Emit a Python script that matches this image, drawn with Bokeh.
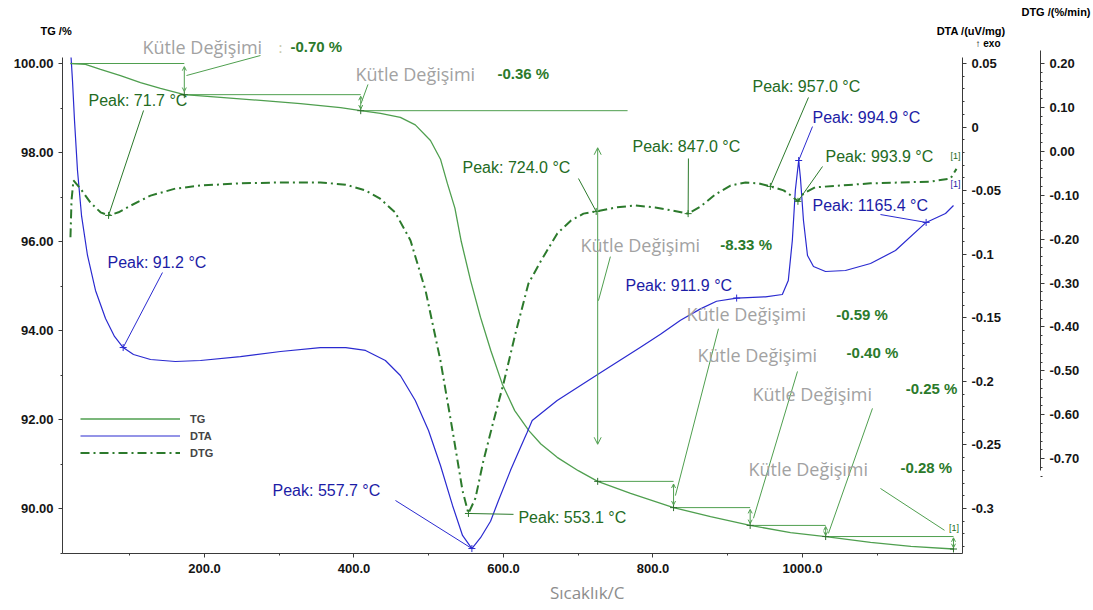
import numpy as np
from bokeh.plotting import figure
from bokeh.models import (Range1d, LinearAxis, FixedTicker, Label, Arrow, OpenHead,
                          NumeralTickFormatter, CustomJSTickFormatter, Legend, LegendItem)
from bokeh.embed import file_html
from bokeh.resources import INLINE

# ---------------- measured curves ----------------
# TG: residual mass (%) vs temperature (°C)
tg_temp = [20.7, 40.8, 60.9, 87.6, 114.4, 141.1, 173.0, 221.4, 275.0, 328.4, 382.0, 409.0,
           435.4, 462.0, 482.0, 502.3, 515.7, 525.0, 535.0, 543.5, 556.0, 569.2, 583.0,
           598.3, 615.0, 633.9, 650.0, 671.8, 700.0, 726.0, 770.0, 827.5, 877.0, 930.0,
           984.0, 1031.0, 1091.0, 1145.0, 1202.0]
tg_mass = [100.0, 99.98, 99.87, 99.73, 99.57, 99.44, 99.30, 99.24, 99.17, 99.10, 99.01, 98.94,
           98.88, 98.79, 98.62, 98.27, 97.85, 97.30, 96.75, 96.00, 95.12, 94.30, 93.55,
           92.80, 92.20, 91.75, 91.45, 91.15, 90.85, 90.61, 90.34, 90.02, 89.82, 89.62,
           89.46, 89.37, 89.24, 89.15, 89.09]

# DTA: uV/mg vs temperature (°C)
dta_temp = [21.5, 23.4, 26.1, 30.1, 35.5, 43.5, 54.2, 67.6, 79.6, 91.2, 105.0, 127.8, 161.0,
            194.6, 248.0, 301.7, 355.0, 389.0, 415.4, 442.0, 462.0, 482.0, 499.7, 515.7,
            531.8, 545.2, 557.7, 569.3, 582.7, 593.3, 609.4, 622.7, 631.7, 638.4, 671.8,
            727.5, 783.3, 810.0, 836.8, 863.5, 885.0, 911.9, 950.5, 973.0, 981.0, 986.4,
            990.4, 994.9, 997.3, 1001.3, 1006.7, 1014.7, 1030.8, 1057.5, 1091.0, 1124.4,
            1165.4, 1191.3, 1202.0]
dta_signal = [0.0547, 0.0366, 0.0052, -0.0342, -0.0696, -0.1010, -0.1285, -0.1506, -0.1647,
              -0.1734, -0.1789, -0.1828, -0.1844, -0.1836, -0.1805, -0.1765, -0.1734, -0.1734,
              -0.1757, -0.1836, -0.1954, -0.2151, -0.2387, -0.2662, -0.2976, -0.3212, -0.3315,
              -0.3230, -0.3100, -0.2937, -0.2700, -0.2520, -0.2400, -0.2308, -0.2151,
              -0.1940, -0.1731, -0.1630, -0.1520, -0.1430, -0.1370, -0.1345, -0.1335,
              -0.1317, -0.1207, -0.0892, -0.0499, -0.0263, -0.0404, -0.0735, -0.1010,
              -0.1097, -0.1136, -0.1128, -0.1073, -0.0971, -0.0750, -0.0680, -0.0617]

# DTG: %/min vs temperature (°C)
dtg_temp = [20.7, 22.1, 24.7, 34.1, 47.5, 60.9, 71.7, 85.0, 101.0, 127.8, 161.0, 194.6, 248.0,
            302.0, 355.0, 389.0, 415.0, 435.0, 455.0, 475.6, 495.7, 515.7, 531.8, 545.2, 553.1,
            562.5, 573.0, 586.6, 600.0, 616.0, 633.4, 650.0, 672.0, 690.0, 707.0, 724.0, 750.0,
            776.5, 803.0, 826.0, 847.0, 863.5, 883.6, 903.7, 923.8, 941.0, 957.0, 974.7, 984.0,
            993.9, 1001.3, 1017.0, 1051.0, 1091.0, 1131.0, 1171.0, 1198.0, 1206.0]
dtg_rate = [-0.196, -0.112, -0.066, -0.085, -0.117, -0.139, -0.146, -0.139, -0.124, -0.101,
            -0.085, -0.078, -0.073, -0.071, -0.071, -0.076, -0.089, -0.108, -0.139, -0.203,
            -0.317, -0.477, -0.636, -0.773, -0.825, -0.790, -0.706, -0.615, -0.529, -0.415,
            -0.301, -0.250, -0.187, -0.158, -0.142, -0.137, -0.128, -0.1235, -0.128, -0.135,
            -0.142, -0.126, -0.098, -0.078, -0.071, -0.073, -0.080, -0.089, -0.100, -0.114,
            -0.096, -0.082, -0.078, -0.073, -0.071, -0.069, -0.062, -0.040]

# mass-change steps evaluated on the TG curve
step_temp = [20.7, 173.0, 409.0, 726.0, 827.5, 930.0, 1031.0, 1202.0]
mass_loss = [0.70, 0.36, 8.33, 0.59, 0.40, 0.25, 0.28]

# evaluated peaks
dtg_peaks = [71.7, 553.1, 724.0, 847.0, 957.0, 993.9]
dta_peaks = [91.2, 557.7, 911.9, 994.9, 1165.4]

# axis ticks
temp_ticks = [200, 400, 600, 800, 1000]
temp_minor = [100, 300, 500, 700, 900, 1100]
tg_ticks = [90, 92, 94, 96, 98, 100]
tg_minor = [89, 91, 93, 95, 97, 99]
dta_ticks = [0.05, 0.0, -0.05, -0.1, -0.15, -0.2, -0.25, -0.3]
dtg_ticks = [0.2, 0.1, 0.0, -0.1, -0.2, -0.3, -0.4, -0.5, -0.6, -0.7]

# visible extent of each axis
temp_span = (10.0, 1214.0)
tg_span = (88.99, 100.135)
dta_span = (-0.3354, 0.0547)
dtg_span = (-0.727, 0.23)

# ---------------- styling ----------------
TG_C = "#4f9f4f"
DTG_C = "#2c7a2c"
DTA_C = "#2a2ad0"
PEAK_G = "#236b23"
PEAK_B = "#1c1ca6"
LOSS_C = "#2b7a2b"
GRAY = "#a2a2a2"
AX = "#3a3a3a"
TICK_FONT = "Liberation Sans"

# the drawing area spans the whole canvas; the axes sit at fixed positions inside it
p = figure(width=1093, height=610, output_backend="svg", toolbar_location=None,
           x_range=Range1d(-72.9, 1389.3), y_range=Range1d(87.708, 101.416),
           min_border_left=0, min_border_right=0, min_border_top=0, min_border_bottom=0)
p.outline_line_color = None
p.grid.visible = False
p.background_fill_color = "white"
p.border_fill_color = "white"

p.extra_y_ranges = {"dta": Range1d(-0.38023, 0.09955), "dtg": Range1d(-1.046, 0.3435)}


def style_axis(ax):
    ax.axis_line_color = AX
    ax.major_tick_line_color = AX
    ax.minor_tick_line_color = AX
    ax.major_tick_out = 4
    ax.major_tick_in = 0
    ax.minor_tick_out = 2
    ax.minor_tick_in = 0
    ax.major_label_text_font = TICK_FONT
    ax.major_label_text_font_style = "bold"
    ax.major_label_text_font_size = "13px"
    ax.major_label_text_color = "#151515"
    ax.major_label_standoff = 5


xa = p.xaxis[0]
style_axis(xa)
xa.ticker = FixedTicker(ticks=temp_ticks, minor_ticks=temp_minor)
xa.formatter = NumeralTickFormatter(format="0.0")
xa.major_label_standoff = 7
xa.fixed_location = tg_span[0]
xa.bounds = temp_span

ya = p.yaxis[0]
style_axis(ya)
ya.ticker = FixedTicker(ticks=tg_ticks, minor_ticks=tg_minor)
ya.formatter = NumeralTickFormatter(format="0.00")
ya.fixed_location = temp_span[0]
ya.bounds = tg_span

dta_axis = LinearAxis(y_range_name="dta")
style_axis(dta_axis)
dta_axis.ticker = FixedTicker(ticks=dta_ticks,
                              minor_ticks=[round(0.05 - 0.01 * i, 2) for i in range(39)])
dta_axis.formatter = CustomJSTickFormatter(code="return parseFloat(tick.toFixed(2)).toString();")
dta_axis.fixed_location = temp_span[1]
dta_axis.bounds = dta_span
p.add_layout(dta_axis, "right")

dtg_axis = LinearAxis(y_range_name="dtg")
style_axis(dtg_axis)
dtg_axis.ticker = FixedTicker(ticks=dtg_ticks,
                              minor_ticks=[round(0.2 - 0.02 * i, 2) for i in range(48)])
dtg_axis.formatter = NumeralTickFormatter(format="0.00")
dtg_axis.fixed_location = 1318.4
dtg_axis.bounds = dtg_span
p.add_layout(dtg_axis, "right")

# ---------------- curves ----------------
r_tg = p.line(tg_temp, tg_mass, line_color=TG_C, line_width=1.3)
r_dta = p.line(dta_temp, dta_signal, line_color=DTA_C, line_width=1.2, y_range_name="dta")
r_dtg = p.line(dtg_temp, dtg_rate, line_color=DTG_C, line_width=2, line_dash="9 4 2 4",
               y_range_name="dtg")

legend = Legend(items=[LegendItem(label="TG", renderers=[r_tg]),
                       LegendItem(label="DTA", renderers=[r_dta]),
                       LegendItem(label="DTG", renderers=[r_dtg])],
                location=(80, 149), glyph_width=100, glyph_height=17, label_height=17,
                spacing=0, padding=0, margin=0, label_standoff=10,
                label_text_font=TICK_FONT, label_text_font_style="bold",
                label_text_font_size="11px", border_line_color=None,
                background_fill_alpha=0)
p.add_layout(legend)


def put(text, x, y, rng="default", color="#000", size="16px", font="Liberation Sans",
        style="normal", align="left", baseline="middle"):
    p.add_layout(Label(x=x, y=y, y_range_name=rng, text=text, text_color=color,
                       text_font_size=size, text_font=font, text_font_style=style,
                       text_align=align, text_baseline=baseline))


# ---------------- mass-change steps ----------------
levels = [100.0] + list(100.0 - np.cumsum(mass_loss))
line_end = list(step_temp[1:])
line_end[2] = 766.0
for i, loss in enumerate(mass_loss):
    p.line([step_temp[i], line_end[i]], [levels[i], levels[i]], line_color=TG_C, line_width=1)
    inset = 0.1 * loss
    head = 7 if loss > 1 else 4
    p.add_layout(Arrow(x_start=step_temp[i + 1], y_start=levels[i] - inset,
                       x_end=step_temp[i + 1], y_end=levels[i + 1] + inset,
                       start=OpenHead(size=head, line_color=TG_C, line_width=1),
                       end=OpenHead(size=head, line_color=TG_C, line_width=1),
                       line_color=TG_C, line_width=1))
p.scatter(step_temp[1:], levels[1:], marker="cross", size=7, line_color="#2f6f2f")

# label anchors (T, TG) for each step text, and the leader start points
loss_text_pos = [(117.1, 100.382), (402.0, 99.775), (703.0, 95.93), (844.7, 94.36),
                 (859.5, 93.46), (933.0, 92.58), (927.7, 90.88)]
loss_value_pos = [(315.0, 100.382), (592.0, 99.775), (890.0, 95.93), (1045.0, 94.36),
                  (1059.0, 93.51), (1138.0, 92.70), (1131.0, 90.92)]
loss_leaders = [((274.9, 100.18), (175.9, 99.73)), ((418.7, 99.53), (409.4, 99.10)),
                ((743.0, 95.66), (727.0, 94.67)), ((887.6, 94.04), (830.0, 90.29)),
                ((993.3, 93.08), (934.4, 89.78)), ((1093.6, 92.25), (1034.7, 89.44)),
                ((1104.3, 90.45), (1190.0, 89.51))]
for (a, b) in loss_leaders:
    p.line([a[0], b[0]], [a[1], b[1]], line_color=TG_C, line_width=1)
for loss, (tx, ty), (vx, vy) in zip(mass_loss, loss_text_pos, loss_value_pos):
    put("Kütle Değişimi", tx, ty, color=GRAY, size="18px", font="Open Sans")
    put(f"{-loss:.2f} %", vx, vy, color=LOSS_C, size="15px", style="bold")
put(":", 299.0, 100.382, color="#c9c9a8", size="15px", font="Open Sans")

# ---------------- peaks ----------------
dtg_peak_val = np.interp(dtg_peaks, dtg_temp, dtg_rate)
dta_peak_val = np.interp(dta_peaks, dta_temp, dta_signal)
p.scatter(dtg_peaks, dtg_peak_val, marker="cross", size=7, line_color=DTG_C, y_range_name="dtg")
p.scatter(dta_peaks, dta_peak_val, marker="cross", size=7, line_color=DTA_C, y_range_name="dta")

dtg_label_pos = [(44.8, 0.1157), (620.0, -0.834), (545.2, -0.0369), (772.6, 0.011),
                 (933.1, 0.1476), (1030.8, -0.0118)]
dtg_leader_start = [(118.5, 0.093), (613.4, -0.827), (700.3, -0.062), (847.4, -0.0164),
                    (1008.0, 0.1226), (1026.8, -0.0346)]
for t, v, (lx, ly), (sx, sy) in zip(dtg_peaks, dtg_peak_val, dtg_label_pos, dtg_leader_start):
    put(f"Peak: {t:.1f} °C", lx, ly, rng="dtg", color=PEAK_G)
    p.line([sx, t], [sy, v], line_color=DTG_C, line_width=1, y_range_name="dtg")

dta_label_pos = [(70.2, -0.1065), (291.0, -0.2858), (763.2, -0.1246), (1013.4, 0.0075),
                 (1013.4, -0.0617)]
dta_leader_start = [(143.8, -0.1144), (455.5, -0.2937), None, (1013.4, 0.0004),
                    (1104.3, -0.0688)]
for t, v, (lx, ly), s in zip(dta_peaks, dta_peak_val, dta_label_pos, dta_leader_start):
    put(f"Peak: {t:.1f} °C", lx, ly, rng="dta", color=PEAK_B)
    if s is not None:
        p.line([s[0], t], [s[1], v], line_color=DTA_C, line_width=1, y_range_name="dta")

# segment markers at the curve ends
put("[1]", 1198.0, -0.0118, rng="dtg", color=PEAK_G, size="9px")
put("[1]", 1198.0, -0.045, rng="dta", color=PEAK_B, size="9px")
put("[1]", 1196.0, 89.56, color=PEAK_G, size="9px")

# ---------------- axis titles ----------------
put("TG /%", -19.4, 100.74, size="11px", style="bold")
put("DTA /(uV/mg)", 1271.6, 100.74, size="11px", style="bold", align="right")
put("\u2191 exo", 1264.9, 100.45, size="10px", style="bold", align="right")
put("DTG /(%/min)", 1385.3, 101.15, size="11px", style="bold", align="right")
put("Sıcaklık/C", 712.0, 88.11, color="#8d8d8d", size="17px", font="Open Sans", align="center")

open("out.html", "w").write(file_html(p, INLINE))
